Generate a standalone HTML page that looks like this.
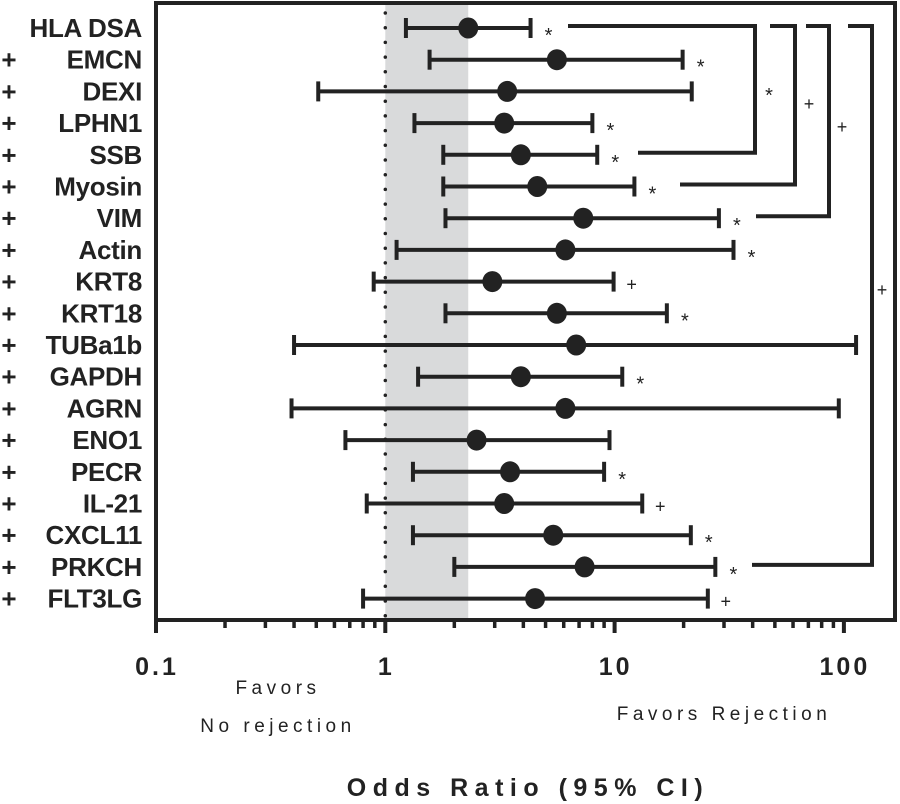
<!DOCTYPE html>
<html><head><meta charset="utf-8">
<style>
html,body{margin:0;padding:0;background:#fff;}
svg{display:block;font-family:"Liberation Sans",sans-serif;}
</style></head>
<body>
<svg id="chart" width="900" height="804" viewBox="0 0 900 804" xmlns="http://www.w3.org/2000/svg"></svg>
<script>
const categories = ["HLA DSA","EMCN","DEXI","LPHN1","SSB","Myosin","VIM","Actin","KRT8","KRT18","TUBa1b","GAPDH","AGRN","ENO1","PECR","IL-21","CXCL11","PRKCH","FLT3LG"];
const prefix = ["","+","+","+","+","+","+","+","+","+","+","+","+","+","+","+","+","+","+"];
const oddsRatio = [2.3,5.6,3.4,3.3,3.9,4.6,7.3,6.1,2.93,5.6,6.8,3.9,6.1,2.5,3.5,3.3,5.4,7.4,4.5];
const ciLow = [1.23,1.56,0.51,1.34,1.79,1.79,1.83,1.12,0.89,1.83,0.40,1.39,0.39,0.67,1.32,0.83,1.32,2.0,0.8];
const ciHigh = [4.3,19.8,21.7,8.0,8.4,12.2,28.5,33,9.9,16.9,113,10.8,95,9.5,9.0,13.2,21.5,27.5,25.5];
const significance = ["*","*","","*","*","*","*","*","+","*","","*","","","*","+","*","*","+"];
const tickValues = [0.1,1,10,100];
const tickLabels = ["0.1","1","10","100"];
const bandRange = [1,2.3];
// brackets: [fromRow, toRow, symbol]
const bracketRows = [[0,4,"*"],[0,5,"+"],[0,6,"+"],[0,17,"+"]];

const NS="http://www.w3.org/2000/svg";
const svg=document.getElementById('chart');
const L=156,R=895,T=3,B=620;
const x0=156,dec=229.3;
function xs(v){return x0+dec*Math.log10(v/0.1);}
function ys(i){return 28+i*31.7;}
function el(tag,attrs,parent){const e=document.createElementNS(NS,tag);for(const k in attrs)e.setAttribute(k,attrs[k]);(parent||svg).appendChild(e);return e;}

let band=el('rect',{x:xs(bandRange[0]),y:T,width:xs(bandRange[1])-xs(bandRange[0]),height:B-T,fill:'#d9dadb'});


let ref=el('line',{x1:xs(1),x2:xs(1),y1:T+10,y2:B,stroke:'#222','stroke-width':3.5,'stroke-dasharray':'0 14.7','stroke-linecap':'round'});



let frame=el('rect',{x:L,y:T,width:R-L,height:B-T,fill:'none',stroke:'#222','stroke-width':4});



for(let d=0;d<3;d++){for(let m=1;m<=9;m++){const v=0.1*Math.pow(10,d)*m;const maj=m===1;
 let t=el('line',{x1:xs(v),x2:xs(v),y1:B,y2:B+(maj?13:8),stroke:'#222','stroke-width':maj?4:3.5});
 
 }}
let t100=el('line',{x1:xs(100),x2:xs(100),y1:B,y2:B+13,stroke:'#222','stroke-width':4});


tickValues.forEach((v,i)=>{let tl=el('text',{x:xs(v)+1,y:675,'text-anchor':'middle','font-size':25,'font-weight':'bold','letter-spacing':3,fill:'#222'});tl.textContent=tickLabels[i];
 
 });

categories.forEach((c,i)=>{const y=ys(i);
 const g=el('g',{});
 
 
 let lab=el('text',{x:142,y:y+9,'text-anchor':'end','font-size':26,'font-weight':'bold','letter-spacing':-0.3,fill:'#222'},g);lab.textContent=c;
 
 
 if(prefix[i]){let p=el('text',{x:9,y:y+9,'text-anchor':'middle','font-size':26,'font-weight':'bold',fill:'#222'},g);p.textContent=prefix[i];
  
  }
 const a=xs(ciLow[i]),b=xs(ciHigh[i]);
 let ln=el('line',{x1:a,x2:b,y1:y,y2:y,stroke:'#222','stroke-width':4},g);
 
 
 [a,b].forEach(xx=>{let cp=el('line',{x1:xx,x2:xx,y1:y-10,y2:y+10,stroke:'#222','stroke-width':4},g);
  
  });
 let dt=el('ellipse',{cx:xs(oddsRatio[i]),cy:y,rx:10,ry:10.5,fill:'#222'},g);
 
 
 if(significance[i]){let s=el('text',{x:b+18,y:y+(significance[i]==='*'?14:9),'text-anchor':'middle','font-size':significance[i]==='*'?20:18,fill:'#222'},g);s.textContent=significance[i];
  
  }
});

const brX=[[568,755,638,769],[770,795,680,809],[806,829,756,842],[848,872,752,882]];
const brLabelY=[95,104,127,290];
bracketRows.forEach((br,k)=>{const [x1,xv,xb,xl]=brX[k];const yt=ys(br[0])-2,yb=ys(br[1])-2;
 let p=el('path',{d:`M${x1},${yt} H${xv} V${yb} H${xb}`,fill:'none',stroke:'#222','stroke-width':4});
 
 
 let s=el('text',{x:xl,y:brLabelY[k]+(br[2]==='*'?7:6),'text-anchor':'middle','font-size':br[2]==='*'?20:18,fill:'#222'});s.textContent=br[2];
 
 
});

function txt(s,x,y,size,ls,bold,name){let t=el('text',{x:x,y:y,'text-anchor':'middle','font-size':size,'letter-spacing':ls,'font-weight':bold?'bold':'normal',fill:'#222'});t.textContent=s;
 
 }
txt('Favors',278,694,19,4.5,false,'favors-no-rejection-label');
txt('No rejection',278,732,19,4.5,false,'favors-no-rejection-label');
txt('Favors Rejection',724,720,19,4.5,false,'favors-rejection-label');
txt('Odds Ratio (95% CI)',528,796,25,6.5,true,'x-axis-title');
</script>
</body></html>
